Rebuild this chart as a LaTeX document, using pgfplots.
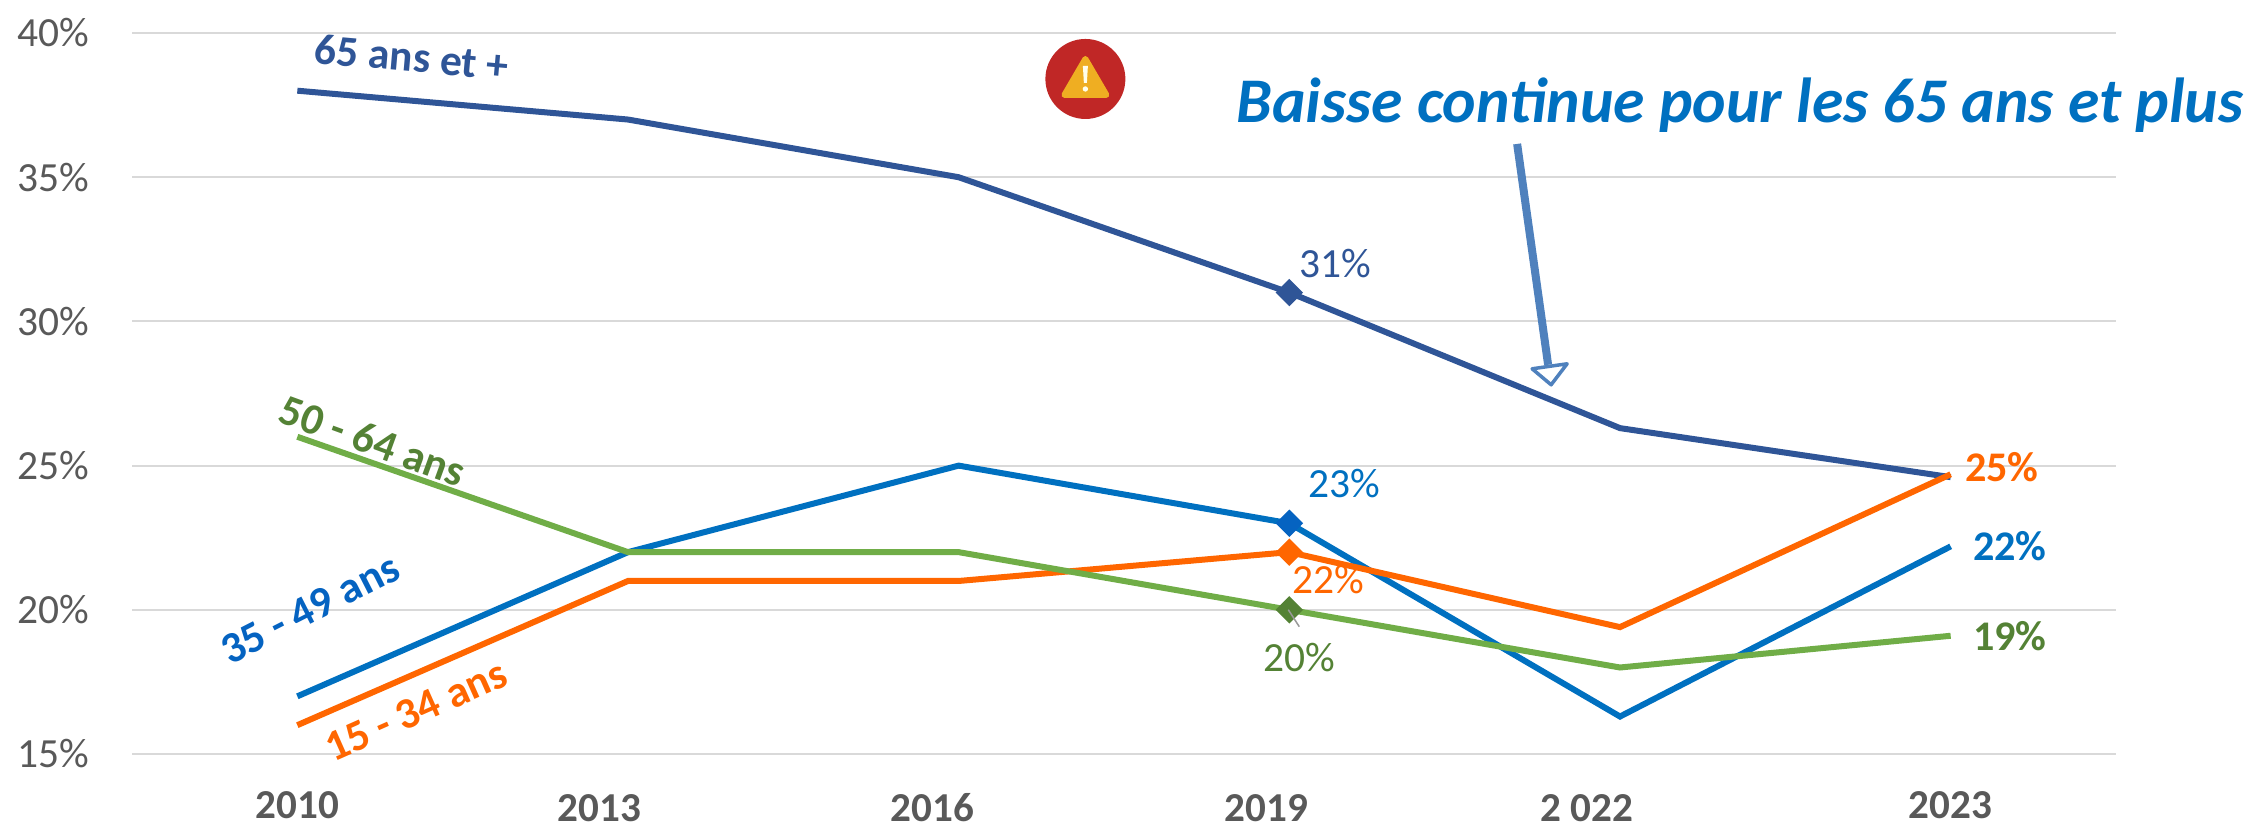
\documentclass[border=0pt]{standalone}
\usepackage{pgfplots}
\pgfplotsset{compat=1.18}
\usepackage{fontspec}
\setmainfont{Carlito}
\definecolor{navy}{HTML}{2F5597}
\definecolor{blu}{HTML}{0070C0}
\definecolor{blumark}{HTML}{0563C1}
\definecolor{ora}{HTML}{FF6600}
\definecolor{gre}{HTML}{70AD47}
\definecolor{dgre}{HTML}{548235}
\definecolor{arr}{HTML}{4F81BD}
\definecolor{tickc}{HTML}{595959}
\definecolor{warnred}{HTML}{C02726}
\definecolor{warny}{HTML}{EFAE22}
\begin{document}
\begin{tikzpicture}
\useasboundingbox (0,0) rectangle (22.52,8.27);
\begin{axis}[
  at={(1.32cm,0.73cm)}, anchor=south west,
  scale only axis, width=19.84cm, height=7.21cm,
  xmin=-0.5, xmax=5.5, ymin=15, ymax=40,
  axis line style={draw=none},
  major tick length=0pt,
  ymajorgrids, grid style={draw=black!15, line width=0.02cm},
  ytick={15,20,25,30,35,40},
  yticklabels={15\%,20\%,25\%,30\%,35\%,40\%},
  yticklabel style={font=\fontsize{11.8}{14}\selectfont, text=tickc, anchor=east, xshift=-0.3cm},
  xtick={0,0.913,1.92,2.93,3.9,5},
  xticklabels={\raisebox{0.07cm}{2010},2013,2016,2019,2 022,\raisebox{0.07cm}{2023}},
  xticklabel style={font=\fontsize{11.7}{14}\selectfont\bfseries, text=tickc, anchor=center, yshift=-0.54cm},
  clip=false,
]
\addplot[navy, line width=0.06cm] coordinates {(0,38)(1,37)(2,35)(3,31)(4,26.3)(5,24.6)};
\addplot[blu, line width=0.06cm] coordinates {(0,17)(1,22)(2,25)(3,23)(4,16.3)(5,22.2)};
\addplot[ora, line width=0.06cm] coordinates {(0,16)(1,21)(2,21)(3,22)(4,19.4)(5,24.7)};
\addplot[gre, line width=0.06cm] coordinates {(0,26)(1,22)(2,22)(3,20)(4,18)(5,19.1)};
\addplot[only marks, mark=square*, mark size=0.09cm, navy, mark options={fill=navy, rotate=45}] coordinates {(3,31)};
\addplot[only marks, mark=square*, mark size=0.09cm, blumark, mark options={fill=blumark, rotate=45}] coordinates {(3,23)};
\addplot[only marks, mark=square*, mark size=0.09cm, ora, mark options={fill=ora, rotate=45}] coordinates {(3,22)};
\addplot[only marks, mark=square*, mark size=0.09cm, dgre, mark options={fill=dgre, rotate=45}] coordinates {(3,20)};
\end{axis}
\begin{scope}[shift={(0cm,8.27cm)},x=0.01cm,y=-0.01cm]
  % warning icon
  \fill[warnred] (1086,79) circle [radius=0.4cm];
  \filldraw[fill=warny, draw=warny, line width=0.06cm, line join=round] (1086,59)--(1065,95)--(1107,95)--cycle;
  \fill[white!92!yellow] (1083.5,66)--(1088.5,66)--(1087.5,83)--(1084.5,83)--cycle;
  \fill[white!92!yellow] (1086,89) circle [radius=0.027cm];
  % leader
  \draw[black!40, line width=0.015cm] (1289,610)--(1300,627);
  % arrow
  \draw[arr, line width=0.08cm] (1518,144)--(1549,365);
  \draw[arr, fill=white, line width=0.035cm, line join=round] (1533,369)--(1568,364)--(1552,385)--cycle;
  % series labels
  \node[navy, rotate=-5, font=\fontsize{12.4}{16}\selectfont\bfseries] at (412,57) {65 ans et +};
  \node[dgre, rotate=-20, font=\fontsize{12.4}{16}\selectfont\bfseries] at (373,441) {50 - 64 ans};
  \node[blumark, rotate=27, font=\fontsize{12.4}{16}\selectfont\bfseries] at (310,609) {35 - 49 ans};
  \node[ora, rotate=24, font=\fontsize{12.4}{16}\selectfont\bfseries] at (416,711) {15 - 34 ans};
  % value labels
  \node[navy, font=\fontsize{11.8}{15}\selectfont] at (1336,264) {31\%};
  \node[blu, font=\fontsize{11.8}{15}\selectfont] at (1345,484) {23\%};
  \node[ora, font=\fontsize{11.8}{15}\selectfont] at (1329,580) {22\%};
  \node[dgre, font=\fontsize{11.8}{15}\selectfont] at (1300,658) {20\%};
  \node[ora, font=\fontsize{12}{15}\selectfont\bfseries] at (2003,467) {25\%};
  \node[blu, font=\fontsize{12}{15}\selectfont\bfseries] at (2011,546) {22\%};
  \node[dgre, font=\fontsize{12}{15}\selectfont\bfseries] at (2011,636) {19\%};
  % title
  \node[blu, font=\fontsize{18.1}{22}\selectfont\bfseries\itshape] at (1741,105) {Baisse continue pour les 65 ans et plus};
\end{scope}
\end{tikzpicture}
\end{document}
